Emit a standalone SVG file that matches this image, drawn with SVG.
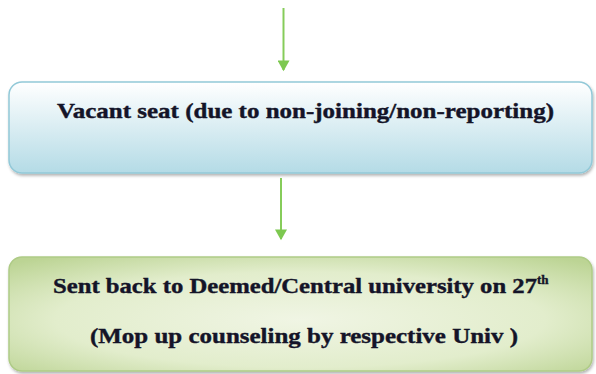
<svg xmlns="http://www.w3.org/2000/svg" width="596" height="374" viewBox="0 0 596 374">
<defs>
<linearGradient id="gBlue" x1="0" y1="0" x2="0" y2="1">
<stop offset="0" stop-color="#ffffff"/>
<stop offset="1" stop-color="#b4dbe6"/>
</linearGradient>
<radialGradient id="gGreen" cx="0.5" cy="0.55" r="0.7">
<stop offset="0" stop-color="#f0f5e4"/>
<stop offset="0.6" stop-color="#e2edcc"/>
<stop offset="1" stop-color="#bcd494"/>
</radialGradient>
<filter id="sh" x="-5%" y="-10%" width="110%" height="130%">
<feDropShadow dx="1" dy="2" stdDeviation="1.5" flood-color="#000" flood-opacity="0.3"/>
</filter>
<marker id="ah" markerWidth="12" markerHeight="12" refX="8" refY="5" orient="auto" markerUnits="userSpaceOnUse" viewBox="0 0 10 10">
<path d="M0,0 L9,5 L0,10 Z" fill="#7dc850"/>
</marker>
</defs>
<style>
.t{font-family:'Liberation Serif','Times New Roman',serif;font-weight:bold;fill:#141428;}
.c{stroke:#86cc5a;stroke-width:2;fill:none;}
</style>
<rect width="596" height="374" fill="#ffffff"/>
<g id="connectors">
<line class="c" x1="283.5" y1="8" x2="283.5" y2="70" marker-end="url(#ah)"/>
<line class="c" x1="281" y1="178" x2="281" y2="239" marker-end="url(#ah)"/>
</g>
<g id="node1">
<rect x="9" y="82" width="583" height="91" rx="13" fill="url(#gBlue)" stroke="#92c9d8" stroke-width="1.5" filter="url(#sh)"/>
<text class="t" x="57" y="118" font-size="22" textLength="497" lengthAdjust="spacingAndGlyphs" stroke="#141428" stroke-width="0.4">Vacant seat (due to non-joining/non-reporting)</text>
</g>
<g id="node2">
<rect x="9" y="257" width="583" height="114" rx="13" fill="url(#gGreen)" stroke="#aecb86" stroke-width="1.5" filter="url(#sh)"/>
<text class="t" x="53" y="293" font-size="22" stroke="#141428" stroke-width="0.4"><tspan textLength="484" lengthAdjust="spacingAndGlyphs">Sent back to Deemed/Central university on 27</tspan><tspan font-size="13" dy="-9">th</tspan></text>
<text class="t" x="90" y="343" font-size="22" textLength="428" lengthAdjust="spacingAndGlyphs" stroke="#141428" stroke-width="0.4">(Mop up counseling by respective Univ )</text>
</g>
</svg>
